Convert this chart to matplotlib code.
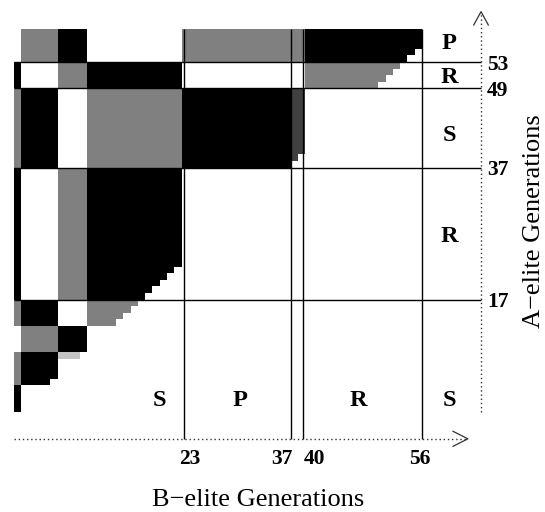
import numpy as np
import matplotlib
matplotlib.use("Agg")
import matplotlib.pyplot as plt
from matplotlib.colors import ListedColormap

# ---------------- data ----------------
N_B = 56   # B-elite generations (columns)
N_A = 58   # A-elite generations (rows)

# outcome codes: 0 white, 1 grey, 2 black, 3 light grey, 4 dark grey
outcome_colors = ["#ffffff", "#808080", "#000000", "#c4c4c4", "#404040"]

# horizontal bands of A-generations (row_lo, row_hi) and the runs (col_lo, col_hi, code)
band_rows = [(0, 4), (4, 5), (5, 8), (8, 9), (9, 13), (13, 17),
             (17, 37), (37, 49), (49, 53), (53, 58)]
band_runs = [
    [(0, 1, 2)],
    [(0, 1, 1), (1, 5, 2)],
    [(0, 1, 1), (1, 6, 2)],
    [(0, 1, 1), (1, 6, 2), (6, 9, 3)],
    [(1, 6, 1), (6, 10, 2)],
    [(0, 1, 1), (1, 6, 2), (10, 17, 1)],
    [(0, 1, 2), (6, 10, 1), (10, 23, 2)],
    [(0, 1, 1), (1, 6, 2), (10, 23, 1), (23, 38, 2), (38, 40, 4)],
    [(0, 1, 2), (6, 10, 1), (10, 23, 2), (40, 53, 1)],
    [(1, 6, 1), (6, 10, 2), (23, 40, 1), (40, 56, 2)],
]
# staircase notches: (row, col_lo, col_hi) that are white
notch_rows = [15, 14, 13, 21, 20, 19, 18, 17, 37, 38, 51, 50, 49, 54, 53]
notch_lo   = [16, 15, 14, 22, 21, 20, 19, 18, 38, 39, 52, 51, 50, 55, 54]
notch_hi   = [17, 17, 17, 23, 23, 23, 23, 23, 40, 40, 53, 53, 53, 56, 56]

b_cut_pos = [23.4, 38.0, 39.7, 56.0]
b_cut_labels = ["23", "37", "40", "56"]
b_label_x = [24.16, 36.74, 41.24, 55.7]
a_cut_pos = [53, 49, 37, 17]
a_cut_labels = ["53", "49", "37", "17"]

b_region_labels = ["S", "P", "R", "S"]
b_region_x = [20.0, 31.0, 47.2, 59.7]
a_region_labels = ["P", "R", "S", "R"]
a_region_y = [54.93, 49.87, 41.03, 25.77]

# ---------------- build matrix ----------------
M = np.zeros((N_A, N_B), dtype=int)
for (lo, hi), runs in zip(band_rows, band_runs):
    for c0, c1, code in runs:
        M[lo:hi, c0:c1] = code
for r, c0, c1 in zip(notch_rows, notch_lo, notch_hi):
    M[r, c0:c1] = 0

# ---------------- figure ----------------
fig = plt.figure(figsize=(5.45, 5.12), dpi=100)
ax = fig.add_axes([0, 0, 1, 1])
ax.set_xlim(-1.9215, 72.88)
ax.set_ylim(-15.204, 62.407)
ax.axis("off")

ax.pcolormesh(np.arange(N_B + 1), np.arange(N_A + 1), M,
              cmap=ListedColormap(outcome_colors), vmin=-0.5, vmax=4.5,
              shading="flat", antialiased=False, edgecolors="none")

axis_y = -4.11
axis_x = 64.1
line_kw = dict(color="black", lw=1.0, solid_capstyle="butt")
for x in b_cut_pos:
    ax.plot([x, x], [axis_y, N_A], **line_kw)
for y in a_cut_pos:
    ax.plot([0, axis_x], [y, y], **line_kw)

dot_kw = dict(color="#333333", lw=1.0, ls=(0, (1, 2)))
ax.plot([0, 62.3], [axis_y, axis_y], **dot_kw)
ax.plot([60.25, 62.3, 60.25], [axis_y + 1.14, axis_y, axis_y - 1.14], color="#333333", lw=0.9)
ax.plot([axis_x, axis_x], [0, 60.6], **dot_kw)
ax.plot([axis_x - 1.0, axis_x, axis_x + 1.0], [58.62, 60.64, 58.62], color="#333333", lw=0.9)

serif = ["Liberation Serif", "DejaVu Serif"]
for x, lab in zip(b_label_x, b_cut_labels):
    ax.text(x, -7.93, lab, ha="center", va="baseline", fontsize=15.5,
            fontweight="bold", family=serif)
for y, lab in zip(a_cut_pos, a_cut_labels):
    ax.text(64.92, y - 1.15, lab, ha="left", va="baseline", fontsize=15.5,
            fontweight="bold", family=serif)
for x, lab in zip(b_region_x, b_region_labels):
    ax.text(x, 0.86, lab, ha="center", va="baseline", fontsize=17.5,
            fontweight="bold", family=serif)
for y, lab in zip(a_region_y, a_region_labels):
    ax.text(59.7, y, lab, ha="center", va="baseline", fontsize=17.5,
            fontweight="bold", family=serif)

ax.text(33.45, -14.25, "B\u2212elite Generations", ha="center", va="baseline",
        fontsize=19, family=serif)
ax.text(72.15, 28.9, "A\u2212elite Generations", ha="center", va="baseline",
        fontsize=19, family=serif, rotation=90, rotation_mode="anchor")

fig.savefig("out.png", dpi=100)
